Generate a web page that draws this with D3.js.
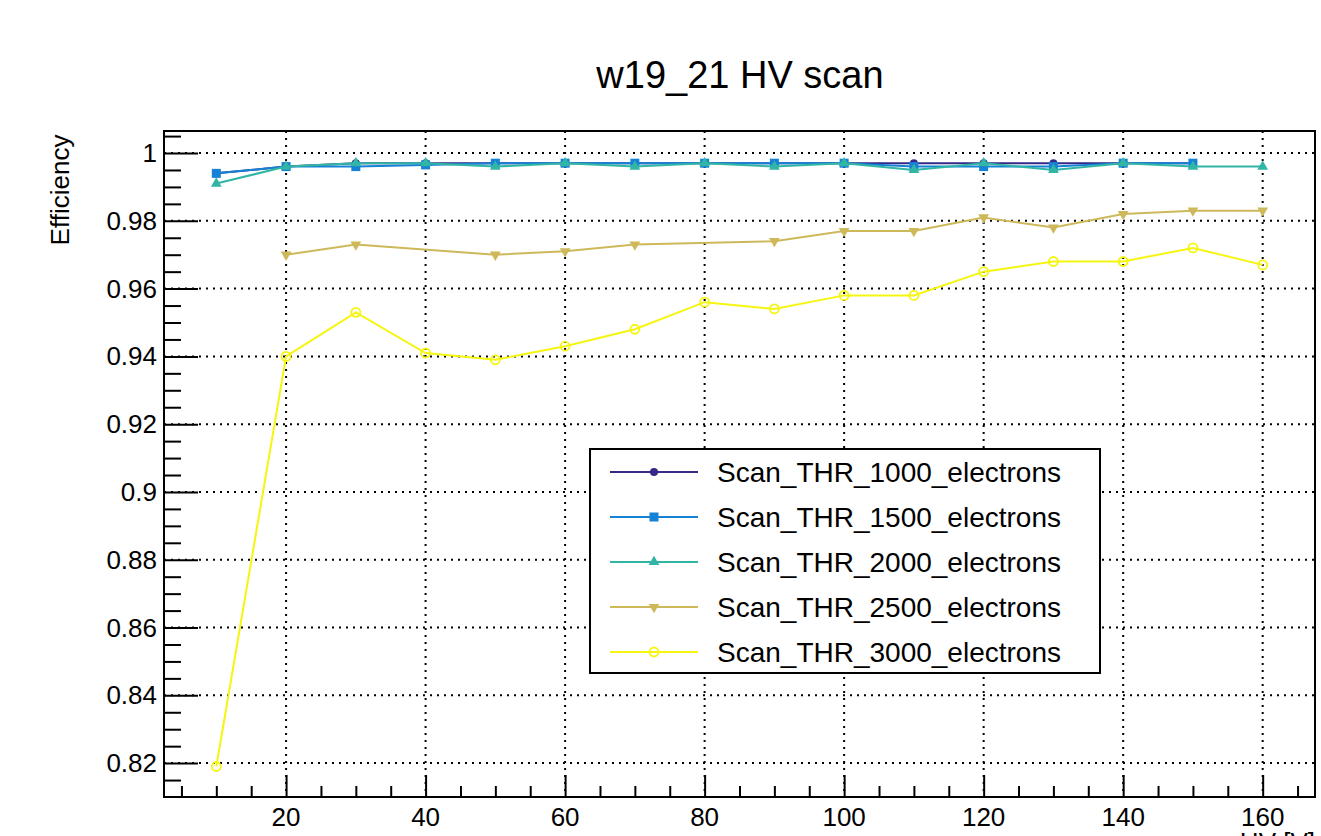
<!DOCTYPE html>
<html><head><meta charset="utf-8">
<script src="https://cdn.jsdelivr.net/npm/d3@7"></script>
<style>body{margin:0;background:#fff}svg{display:block;font-family:"Liberation Sans",Arial,sans-serif}</style>
</head><body><svg id="c" width="1321" height="836"></svg>
<script>
const xs = [10,20,30,40,50,60,70,80,90,100,110,120,130,140,150,160];
const s1000 = [0.994,0.996,0.997,0.997,0.997,0.997,0.997,0.997,0.997,0.997,0.997,0.997,0.997,0.997,0.997];
const s1500 = [0.994,0.996,0.996,0.9965,0.997,0.997,0.997,0.997,0.997,0.997,0.996,0.996,0.996,0.997,0.997];
const s2000 = [0.991,0.996,0.997,0.997,0.996,0.997,0.996,0.997,0.996,0.997,0.995,0.997,0.995,0.997,0.996,0.996];
const x2500 = [20,30,50,60,70,90,100,110,120,130,140,150,160];
const s2500 = [0.970,0.973,0.970,0.971,0.973,0.974,0.977,0.977,0.981,0.978,0.982,0.983,0.983];
const s3000 = [0.819,0.940,0.953,0.941,0.939,0.943,0.948,0.956,0.954,0.958,0.958,0.965,0.968,0.968,0.972,0.967];
const names = ["Scan_THR_1000_electrons","Scan_THR_1500_electrons","Scan_THR_2000_electrons","Scan_THR_2500_electrons","Scan_THR_3000_electrons"];
const colors = ["#352a87","#1582d6","#31b5a4","#cdb95a","#f5f50f"];
const markers = ["circle","square","triUp","triDown","openCircle"];
const xTicks = [20,40,60,80,100,120,140,160];
const yTicks = [0.82,0.84,0.86,0.88,0.9,0.92,0.94,0.96,0.98,1];
const title = "w19_21 HV scan", xTitle = "HV [V]", yTitle = "Efficiency";

const series = [
  {x: xs.slice(0, s1000.length), y: s1000},
  {x: xs.slice(0, s1500.length), y: s1500},
  {x: xs, y: s2000},
  {x: x2500, y: s2500},
  {x: xs, y: s3000}
];

const L=164, R=1315, T=131, B=797;
const x = d3.scaleLinear().domain([2.5,167.5]).range([L,R]);
const y = d3.scaleLinear().domain([0.81,1.0065]).range([B,T]);
const svg = d3.select("#c");

// grid
const g = svg.append("g");
g.selectAll(".gx").data(xTicks).join("line").attr("x1",d=>x(d)).attr("x2",d=>x(d)).attr("y1",T).attr("y2",B)
 .attr("stroke","#000").attr("stroke-width",2).attr("stroke-dasharray","2,5");
g.selectAll(".gy").data(yTicks).join("line").attr("y1",d=>y(d)).attr("y2",d=>y(d)).attr("x1",L).attr("x2",R)
 .attr("stroke","#000").attr("stroke-width",2).attr("stroke-dasharray","2,5");

// axes ticks (inward)
const yAxis = d3.axisRight(y).tickValues(d3.range(0.815,1.0051,0.005).map(v=>+v.toFixed(3)))
  .tickSize(0).tickFormat("");
const ya = svg.append("g").attr("transform",`translate(${L},0)`).call(yAxis);
ya.select(".domain").remove();
ya.selectAll(".tick line").attr("x2",d=>yTicks.some(t=>Math.abs(t-d)<1e-6)?34:17).attr("stroke","#000").attr("stroke-width",2);
const xAxis = d3.axisTop(x).tickValues(d3.range(5,166,5)).tickSize(0).tickFormat("");
const xa = svg.append("g").attr("transform",`translate(0,${B})`).call(xAxis);
xa.select(".domain").remove();
xa.selectAll(".tick line").attr("y2",d=>xTicks.includes(d)?-22:-11).attr("stroke","#000").attr("stroke-width",2);

// tick labels
svg.selectAll(".yl").data(yTicks).join("text").attr("x",157).attr("y",d=>y(d)+9).attr("text-anchor","end")
  .attr("font-size",26).text(d=>d3.format("~g")(d));
svg.selectAll(".xl").data(xTicks).join("text").attr("x",d=>x(d)).attr("y",826).attr("text-anchor","middle")
  .attr("font-size",26).text(d=>d);

// frame
svg.append("rect").attr("x",L).attr("y",T).attr("width",R-L).attr("height",B-T).attr("fill","none").attr("stroke","#000").attr("stroke-width",2);

// titles
svg.append("text").attr("x",740).attr("y",88).attr("text-anchor","middle").attr("font-size",38).text(title);
svg.append("text").attr("x",R).attr("y",851).attr("text-anchor","end").attr("font-size",26).text(xTitle);
svg.append("text").attr("transform","translate(69,190) rotate(-90)").attr("text-anchor","middle").attr("font-size",26).text(yTitle);

function drawMarker(sel, type, color){
  if(type==="circle") sel.append("circle").attr("r",4).attr("fill",color);
  else if(type==="square") sel.append("rect").attr("x",-4.5).attr("y",-4.5).attr("width",9).attr("height",9).attr("fill",color);
  else if(type==="triUp") sel.append("path").attr("d",d3.symbol(d3.symbolTriangle,50)()).attr("fill",color);
  else if(type==="triDown") sel.append("path").attr("d",d3.symbol(d3.symbolTriangle,50)()).attr("transform","rotate(180)").attr("fill",color);
  else sel.append("circle").attr("r",4.5).attr("fill","none").attr("stroke",color).attr("stroke-width",1.8);
}

const line = d3.line().x(d=>x(d[0])).y(d=>y(d[1]));
series.forEach((s,i)=>{
  const pts = s.x.map((v,j)=>[v,s.y[j]]);
  svg.append("path").datum(pts).attr("d",line).attr("fill","none").attr("stroke",colors[i]).attr("stroke-width",2);
  pts.forEach(p=>{
    const m = svg.append("g").attr("transform",`translate(${x(p[0])},${y(p[1])})`);
    drawMarker(m, markers[i], colors[i]);
  });
});

// legend
const lg = svg.append("g");
lg.append("rect").attr("x",590).attr("y",449).attr("width",510).attr("height",224).attr("fill","#fff").attr("stroke","#000").attr("stroke-width",2);
names.forEach((n,i)=>{
  const yy = 472 + i*45;
  lg.append("line").attr("x1",610).attr("x2",698).attr("y1",yy).attr("y2",yy).attr("stroke",colors[i]).attr("stroke-width",2);
  const m = lg.append("g").attr("transform",`translate(654,${yy})`);
  drawMarker(m, markers[i], colors[i]);
  lg.append("text").attr("x",717).attr("y",yy+10).attr("font-size",28).text(n);
});
</script></body></html>
